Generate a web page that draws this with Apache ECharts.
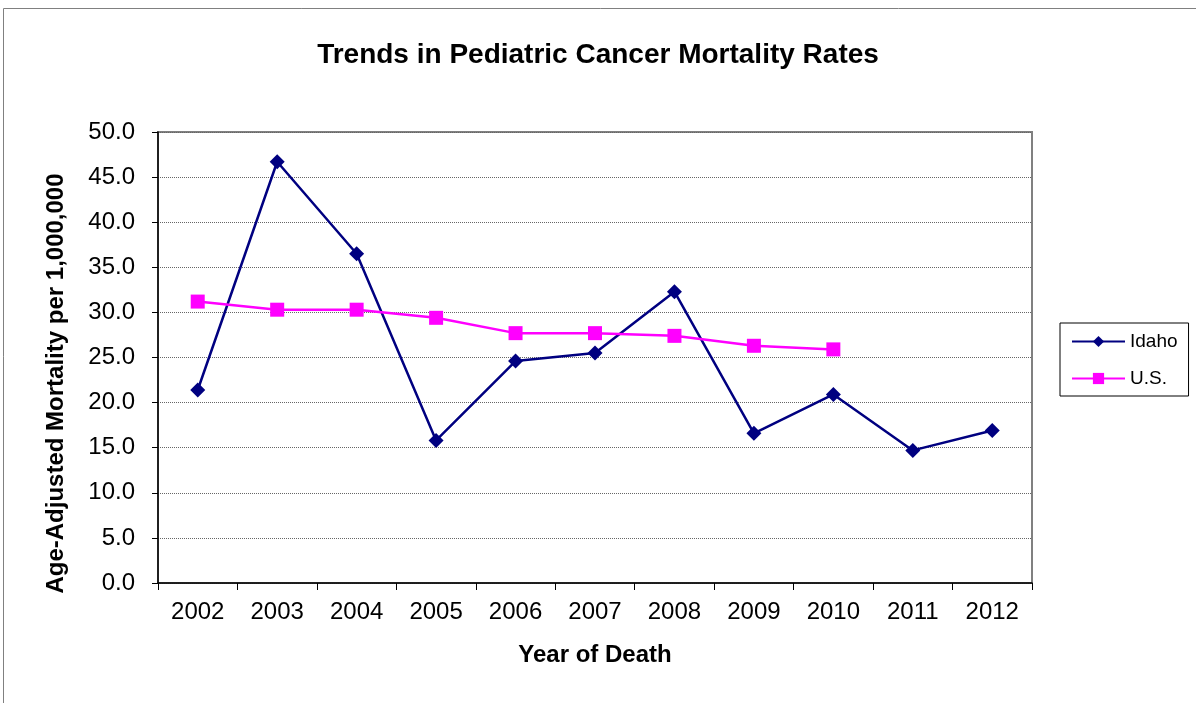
<!DOCTYPE html>
<html><head><meta charset="utf-8">
<script src="https://cdn.jsdelivr.net/npm/echarts@6/dist/echarts.min.js"></script>
<style>html,body{margin:0;padding:0;background:#fff}#c{width:1196px;height:703px}</style>
</head><body><div id="c"></div>
<script>
const categories = ['2002','2003','2004','2005','2006','2007','2008','2009','2010','2011','2012'];
const idaho = [21.4, 46.7, 36.5, 15.8, 24.6, 25.5, 32.3, 16.6, 20.9, 14.7, 16.9];
const us = [31.2, 30.3, 30.3, 29.4, 27.7, 27.7, 27.4, 26.3, 25.9, null, null];
const yTicks = {min: 0, max: 50, interval: 5};

const chart = echarts.init(document.getElementById('c'), null, {renderer: 'canvas'});
const F = 'Liberation Sans, Arial, sans-serif';
chart.setOption({
  animation: false,
  backgroundColor: '#fff',
  graphic: [{type: 'rect', shape: {x: 3.5, y: 8.5, width: 1220, height: 720}, style: {fill: 'none', stroke: '#808080', lineWidth: 1}, silent: true}],
  title: {text: 'Trends in Pediatric Cancer Mortality Rates', left: 'center', top: 36,
    textStyle: {fontFamily: F, fontSize: 28, fontWeight: 'bold', color: '#000'}},
  legend: {orient: 'vertical', left: 1060, top: 323, padding: [9, 11, 8, 11], itemGap: 18,
    itemWidth: 53, itemHeight: 14, borderColor: '#000', borderWidth: 1,
    textStyle: {fontFamily: F, fontSize: 19, color: '#000'},
    data: ['Idaho', 'U.S.']},
  grid: {left: 158, right: 164, top: 132, bottom: 120, show: true, borderColor: '#808080', borderWidth: 2, containLabel: false},
  xAxis: {type: 'category', data: categories, boundaryGap: true,
    name: 'Year of Death', nameLocation: 'middle', nameGap: 60,
    nameTextStyle: {fontFamily: F, fontSize: 24, fontWeight: 'bold', color: '#000'},
    axisLine: {lineStyle: {color: '#000', width: 1.5}},
    axisTick: {show: true, alignWithLabel: false, length: 7, lineStyle: {color: '#000'}},
    axisLabel: {fontFamily: F, fontSize: 24, color: '#000', margin: 17},
    splitLine: {show: false}},
  yAxis: {type: 'value', min: yTicks.min, max: yTicks.max, interval: yTicks.interval,
    name: 'Age-Adjusted Mortality per 1,000,000', nameLocation: 'middle', nameGap: 90,
    nameTextStyle: {fontFamily: F, fontSize: 24, fontWeight: 'bold', color: '#000', padding: [0, 52, 0, 0]},
    axisLine: {show: true, lineStyle: {color: '#000', width: 1.5}},
    axisTick: {show: true, length: 6, lineStyle: {color: '#000'}},
    axisLabel: {fontFamily: F, fontSize: 24, color: '#000', margin: 23, formatter: v => v.toFixed(1)},
    splitLine: {show: true, lineStyle: {color: '#666', type: 'dotted', width: 1}}},
  series: [
    {name: 'Idaho', type: 'line', data: idaho, symbol: 'diamond', symbolSize: 15,
      lineStyle: {color: '#000080', width: 2.5}, itemStyle: {color: '#000080'}},
    {name: 'U.S.', type: 'line', data: us, symbol: 'rect', symbolSize: 14,
      lineStyle: {color: '#FF00FF', width: 2.5}, itemStyle: {color: '#FF00FF'}}
  ]
});
</script></body></html>
